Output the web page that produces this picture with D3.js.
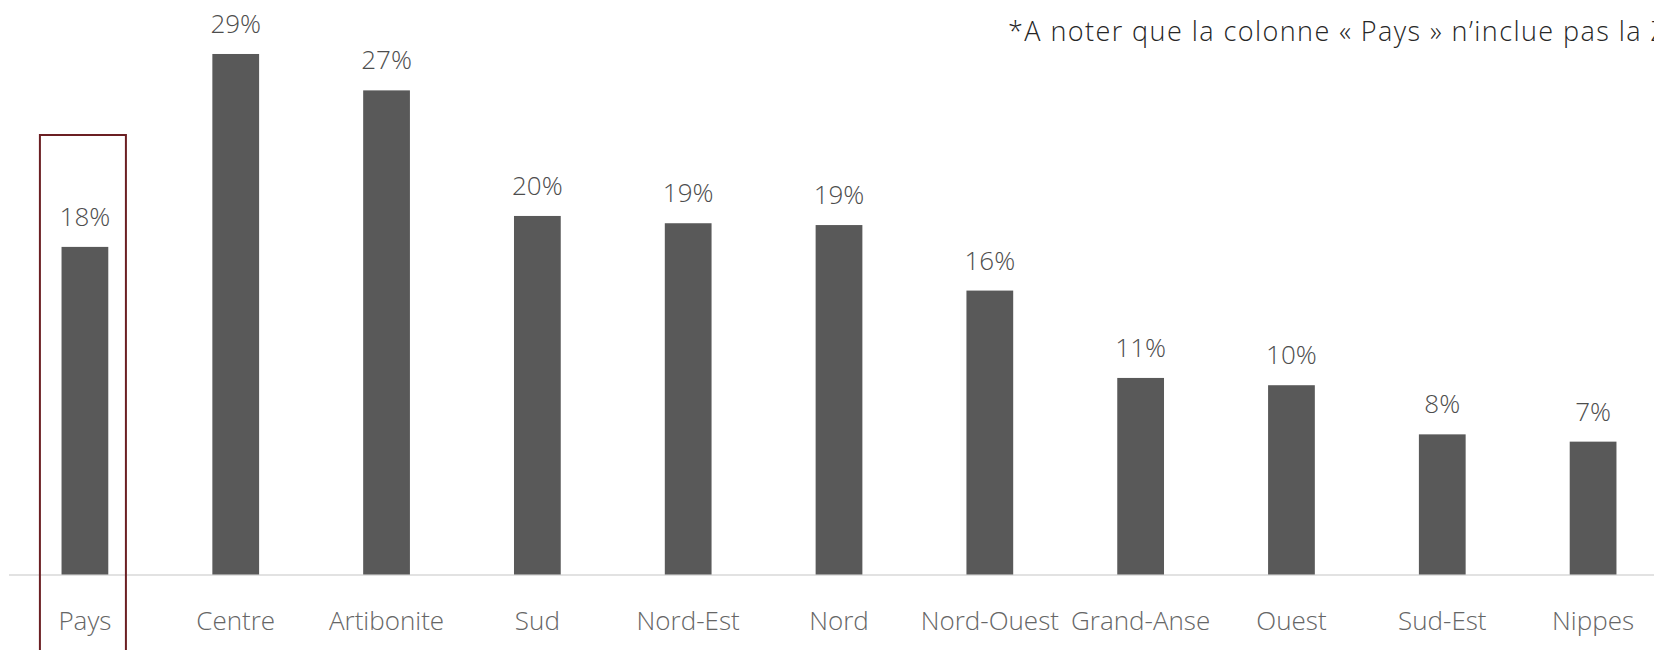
<!DOCTYPE html>
<html>
<head>
<meta charset="utf-8">
<script src="https://cdn.jsdelivr.net/npm/d3@7"></script>
<style>
  body { margin: 0; background: #fff; }
  svg text { font-family: "Open Sans", "Segoe UI", sans-serif; font-weight: 300; }
</style>
</head>
<body>
<svg width="1654" height="650"></svg>
<script>
// regions, share (%)
const regions = ["Pays", "Centre", "Artibonite", "Sud", "Nord-Est", "Nord",
  "Nord-Ouest", "Grand-Anse", "Ouest", "Sud-Est", "Nippes"];
const shares = [18.0, 28.6, 26.6, 19.7, 19.3, 19.2, 15.6, 10.8, 10.4, 7.7, 7.3];
const note = "*A noter que la colonne « Pays » n’inclue pas la Z";
const highlighted = "Pays";

const svg = d3.select("svg");

const x = d3.scaleBand()
  .domain(regions)
  .range([9.5, 1668.5])
  .paddingInner(0.69)
  .paddingOuter(0.345);

const y = d3.scaleLinear()
  .domain([0, 30])
  .range([574.5, 28.5]);

const fmt = d => d3.format(".0f")(d) + "%";

// baseline
svg.append("line")
  .attr("x1", 9).attr("x2", 1654)
  .attr("y1", y(0) + 0.5).attr("y2", y(0) + 0.5)
  .attr("stroke", "#d9d9d9")
  .attr("stroke-width", 1.5);

svg.selectAll(".bar")
  .data(regions)
  .enter()
  .append("rect")
  .attr("class", "bar")
  .attr("x", d => x(d))
  .attr("width", x.bandwidth())
  .attr("y", (d, i) => y(shares[i]))
  .attr("height", (d, i) => y(0) - y(shares[i]))
  .attr("fill", "#595959");

svg.selectAll(".value")
  .data(regions)
  .enter()
  .append("text")
  .attr("class", "value")
  .attr("x", d => x(d) + x.bandwidth() / 2)
  .attr("y", (d, i) => y(shares[i]) - 21)
  .attr("text-anchor", "middle")
  .attr("font-size", 26)
  .attr("fill", "#4d4d4d")
  .text((d, i) => fmt(shares[i]));

const xAxis = svg.append("g")
  .attr("transform", `translate(0,${y(0)})`)
  .call(d3.axisBottom(x).tickSize(0).tickPadding(0));
xAxis.select(".domain").remove();
xAxis.selectAll("text")
  .attr("y", 55.5)
  .attr("dy", null)
  .attr("font-size", 26)
  .attr("font-family", null)
  .attr("fill", "#666666");

// box round the "Pays" column
const hx = x(highlighted) + x.bandwidth() / 2;
svg.append("rect")
  .attr("x", hx - 45)
  .attr("y", 135)
  .attr("width", 86)
  .attr("height", 530)
  .attr("fill", "none")
  .attr("stroke", "#6b1f23")
  .attr("stroke-width", 2);

svg.append("text")
  .attr("x", 1008)
  .attr("y", 41)
  .attr("font-size", 27)
  .attr("fill", "#262626")
  .attr("textLength", 658)
  .attr("lengthAdjust", "spacing")
  .text(note);
</script>
</body>
</html>
